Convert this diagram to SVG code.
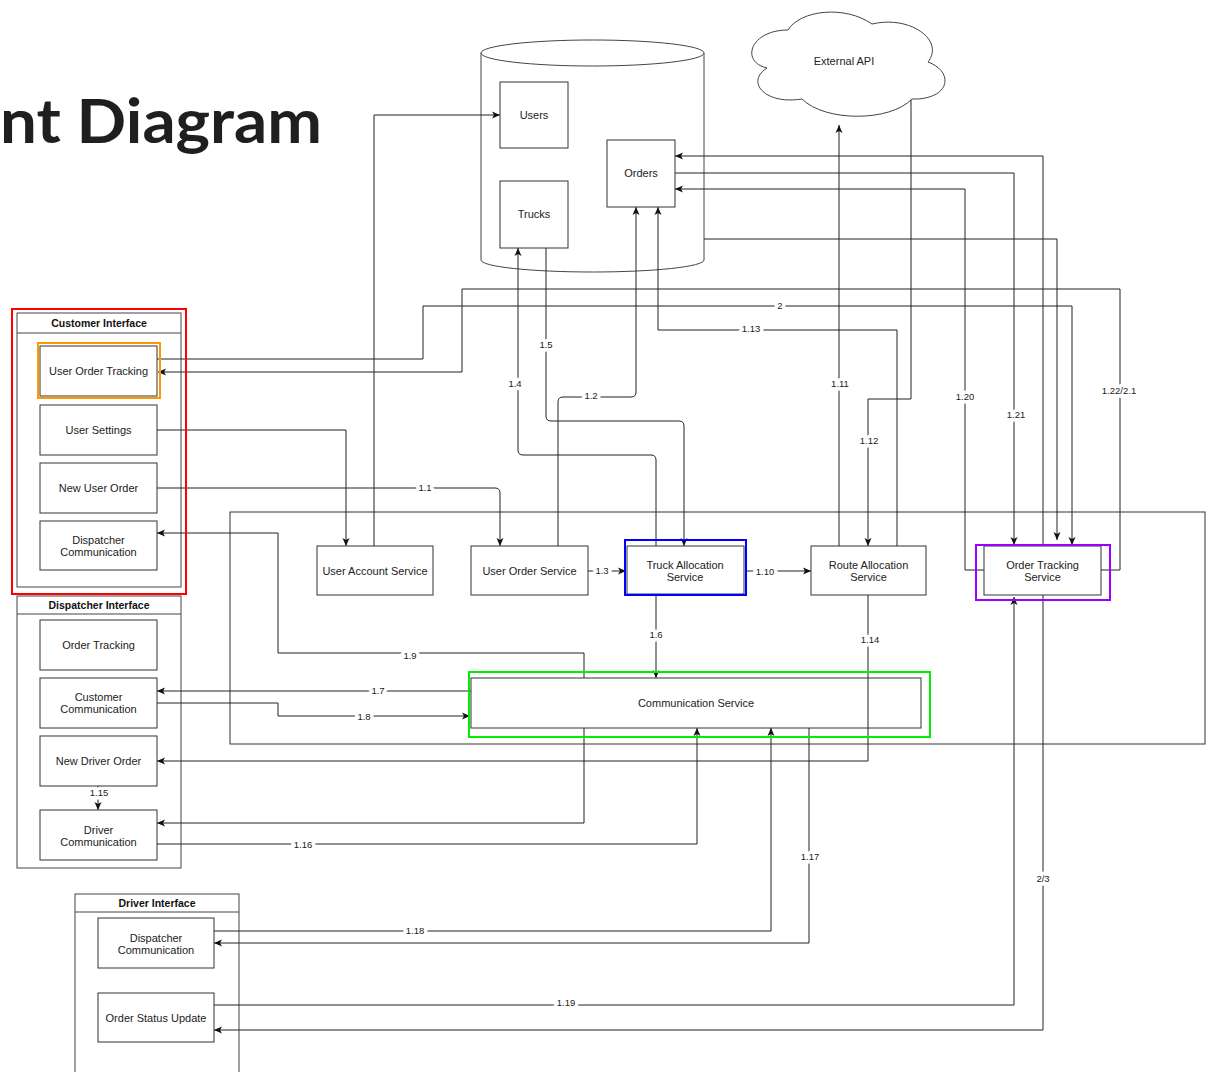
<svg xmlns="http://www.w3.org/2000/svg" width="1206" height="1072" viewBox="0 0 1206 1072">
<style>
.box{fill:#fff;stroke:#333;stroke-width:1}
.cont{fill:#fff;stroke:#444;stroke-width:1}
.t{font-family:"Liberation Sans",Arial,sans-serif;font-size:11px;fill:#222;text-anchor:middle}
.tb{font-family:"Liberation Sans",Arial,sans-serif;font-size:10.5px;font-weight:bold;fill:#111;text-anchor:middle}
.e{fill:none;stroke:#222;stroke-width:1}
.ea{fill:none;stroke:#222;stroke-width:1;marker-end:url(#ah)}
.el{font-family:"Liberation Sans",Arial,sans-serif;font-size:9.5px;fill:#222;text-anchor:middle;paint-order:stroke;stroke:#fff;stroke-width:7px;stroke-linejoin:round}
.hl{fill:none;stroke-width:2}
</style>
<defs>
<marker id="ah" viewBox="0 0 8 8" refX="8" refY="4" markerWidth="8" markerHeight="8" orient="auto" markerUnits="userSpaceOnUse">
<path d="M0,0.5 L8,4 L0,7.5 L2,4 Z" fill="#111"/>
</marker>
</defs>
<rect width="1206" height="1072" fill="#fff"/>
<text x="0" y="143" font-family="Lato,'Open Sans',sans-serif" font-weight="bold" font-size="62" fill="#1f1f1f" textLength="322" lengthAdjust="spacingAndGlyphs">nt Diagram</text>

<g id="boundary"><rect x="230" y="512" width="975" height="232" fill="none" stroke="#333" stroke-width="1"/></g>

<g id="database">
<path d="M481,53 V260 A111.5,12 0 0 0 704,260 V53" fill="#fff" stroke="#444" stroke-width="1"/>
<ellipse cx="592.5" cy="53" rx="111.5" ry="13" fill="#fff" stroke="#444" stroke-width="1"/>
</g>

<g id="external-api">
<path d="M788,30 C750,30 740,62 767,68 C745,82 765,105 802,99 C825,122 890,122 912,99 C950,100 955,72 928,62 C945,40 910,15 872,24 C845,5 800,10 788,30 Z" fill="#fff" stroke="#444" stroke-width="1"/>
<text class="t" x="844" y="65" font-size="10">External API</text>
</g>

<g id="customer-interface">
<rect class="cont" x="17" y="313" width="164" height="274"/>
<line x1="17" y1="333" x2="181" y2="333" stroke="#444"/>
<text class="tb" x="99" y="327">Customer Interface</text>
</g>
<g id="dispatcher-interface">
<rect class="cont" x="17" y="596" width="164" height="272"/>
<line x1="17" y1="614" x2="181" y2="614" stroke="#444"/>
<text class="tb" x="99" y="609">Dispatcher Interface</text>
</g>
<g id="driver-interface">
<rect class="cont" x="75" y="894" width="164" height="190"/>
<line x1="75" y1="912" x2="239" y2="912" stroke="#444"/>
<text class="tb" x="157" y="907">Driver Interface</text>
</g>

<g id="connectors">
<path class="ea" d="M374,546 V115 H500"/>
<path class="ea" d="M157,430 H346 V546"/>
<path class="ea" d="M157,488 H495 Q500,488 500,493 V546"/>
<path class="ea" d="M558,546 V402 Q558,397 563,397 H631 Q636,397 636,392 V207"/>
<path class="ea" d="M588,571 H626"/>
<path class="ea" d="M656,546 V460 Q656,455 651,455 H523 Q518,455 518,450 V248"/>
<path class="ea" d="M546,248 V416 Q546,421 551,421 H679 Q684,421 684,426 V546"/>
<path class="ea" d="M656,595 V678"/>
<path class="ea" d="M471,691 H157"/>
<path class="ea" d="M157,703 H278 V716 H470"/>
<path class="ea" d="M584,678 V653 H278 V533 H157"/>
<path class="ea" d="M746,571 H811"/>
<path class="ea" d="M839,546 V125"/>
<path class="ea" d="M911,100 V399 H868 V546"/>
<path class="ea" d="M897,546 V330 H658 V207"/>
<path class="ea" d="M868,595 V761 H157"/>
<path class="ea" d="M98,786 V810"/>
<path class="ea" d="M157,844 H697 V728"/>
<path class="ea" d="M584,728 V823 H157"/>
<path class="ea" d="M809,728 V943 H214"/>
<path class="ea" d="M214,931 H771 V728"/>
<path class="ea" d="M214,1005 H1014 V597"/>
<path class="ea" d="M984,570 H965 V189 H675"/>
<path class="ea" d="M675,173 H1014 V545"/>
<path class="ea" d="M1043,546 V156 H675"/>
<path class="ea" d="M704,239 H1057 V540"/>
<path class="ea" d="M157,359 H423 V306 H1072 V545"/>
<path class="ea" d="M1101,570 H1120 V289 H462 V372 H158"/>
<path class="ea" d="M1043,595 V1030 H214"/>
<text class="el" x="425" y="491">1.1</text>
<text class="el" x="591" y="399">1.2</text>
<text class="el" x="602" y="574">1.3</text>
<text class="el" x="515" y="387">1.4</text>
<text class="el" x="546" y="348">1.5</text>
<text class="el" x="656" y="638">1.6</text>
<text class="el" x="378" y="694">1.7</text>
<text class="el" x="364" y="720">1.8</text>
<text class="el" x="410" y="659">1.9</text>
<text class="el" x="765" y="575">1.10</text>
<text class="el" x="840" y="387">1.11</text>
<text class="el" x="869" y="444">1.12</text>
<text class="el" x="751" y="332">1.13</text>
<text class="el" x="870" y="643">1.14</text>
<text class="el" x="99" y="796">1.15</text>
<text class="el" x="303" y="848">1.16</text>
<text class="el" x="810" y="860">1.17</text>
<text class="el" x="415" y="934">1.18</text>
<text class="el" x="566" y="1006">1.19</text>
<text class="el" x="965" y="400">1.20</text>
<text class="el" x="1016" y="418">1.21</text>
<text class="el" x="1119" y="394">1.22/2.1</text>
<text class="el" x="780" y="309">2</text>
<text class="el" x="1043" y="882">2/3</text>
</g>

<g id="users"><rect class="box" x="500" y="82" width="68" height="66"/><text class="t" x="534" y="119">Users</text></g>
<g id="trucks"><rect class="box" x="500" y="181" width="68" height="67"/><text class="t" x="534" y="218">Trucks</text></g>
<g id="orders"><rect class="box" x="607" y="140" width="68" height="67"/><text class="t" x="641" y="177">Orders</text></g>

<g id="user-order-tracking"><rect class="box" x="40" y="346" width="117" height="50"/><text class="t" x="98.5" y="375">User Order Tracking</text></g>
<g id="user-settings"><rect class="box" x="40" y="405" width="117" height="50"/><text class="t" x="98.5" y="434">User Settings</text></g>
<g id="new-user-order"><rect class="box" x="40" y="463" width="117" height="50"/><text class="t" x="98.5" y="492">New User Order</text></g>
<g id="cust-dispatcher-communication"><rect class="box" x="40" y="521" width="117" height="49"/><text class="t" x="98.5" y="544">Dispatcher</text><text class="t" x="98.5" y="556">Communication</text></g>

<g id="order-tracking"><rect class="box" x="40" y="620" width="117" height="50"/><text class="t" x="98.5" y="649">Order Tracking</text></g>
<g id="customer-communication"><rect class="box" x="40" y="678" width="117" height="50"/><text class="t" x="98.5" y="701">Customer</text><text class="t" x="98.5" y="713">Communication</text></g>
<g id="new-driver-order"><rect class="box" x="40" y="736" width="117" height="50"/><text class="t" x="98.5" y="765">New Driver Order</text></g>
<g id="driver-communication"><rect class="box" x="40" y="810" width="117" height="50"/><text class="t" x="98.5" y="834">Driver</text><text class="t" x="98.5" y="846">Communication</text></g>

<g id="drv-dispatcher-communication"><rect class="box" x="98" y="918" width="116" height="50"/><text class="t" x="156" y="942">Dispatcher</text><text class="t" x="156" y="954">Communication</text></g>
<g id="order-status-update"><rect class="box" x="98" y="993" width="116" height="49"/><text class="t" x="156" y="1022">Order Status Update</text></g>

<g id="user-account-service"><rect class="box" x="317" y="546" width="116" height="49"/><text class="t" x="375" y="575">User Account Service</text></g>
<g id="user-order-service"><rect class="box" x="471" y="546" width="117" height="49"/><text class="t" x="529.5" y="575">User Order Service</text></g>
<g id="truck-allocation-service"><rect class="box" x="627" y="546" width="117" height="48"/><text class="t" x="685" y="569">Truck Allocation</text><text class="t" x="685" y="581">Service</text></g>
<g id="route-allocation-service"><rect class="box" x="811" y="546" width="115" height="49"/><text class="t" x="868.5" y="569">Route Allocation</text><text class="t" x="868.5" y="581">Service</text></g>
<g id="order-tracking-service"><rect class="box" x="984" y="546" width="117" height="49"/><text class="t" x="1042.5" y="569">Order Tracking</text><text class="t" x="1042.5" y="581">Service</text></g>
<g id="communication-service"><rect x="471" y="678" width="450" height="50" fill="none" stroke="#333" stroke-width="1"/><text class="t" x="696" y="707">Communication Service</text></g>

<g id="highlights">
<rect class="hl" x="12" y="309" width="174" height="285" stroke="#ff0000"/>
<rect class="hl" x="38" y="343" width="122" height="55" stroke="#ff9900"/>
<rect class="hl" x="625" y="540" width="121" height="55" stroke="#0000ff"/>
<rect class="hl" x="469" y="672" width="461" height="65" stroke="#00ee00"/>
<rect class="hl" x="976" y="545" width="134" height="55" stroke="#9900ff"/>
</g>
</svg>
